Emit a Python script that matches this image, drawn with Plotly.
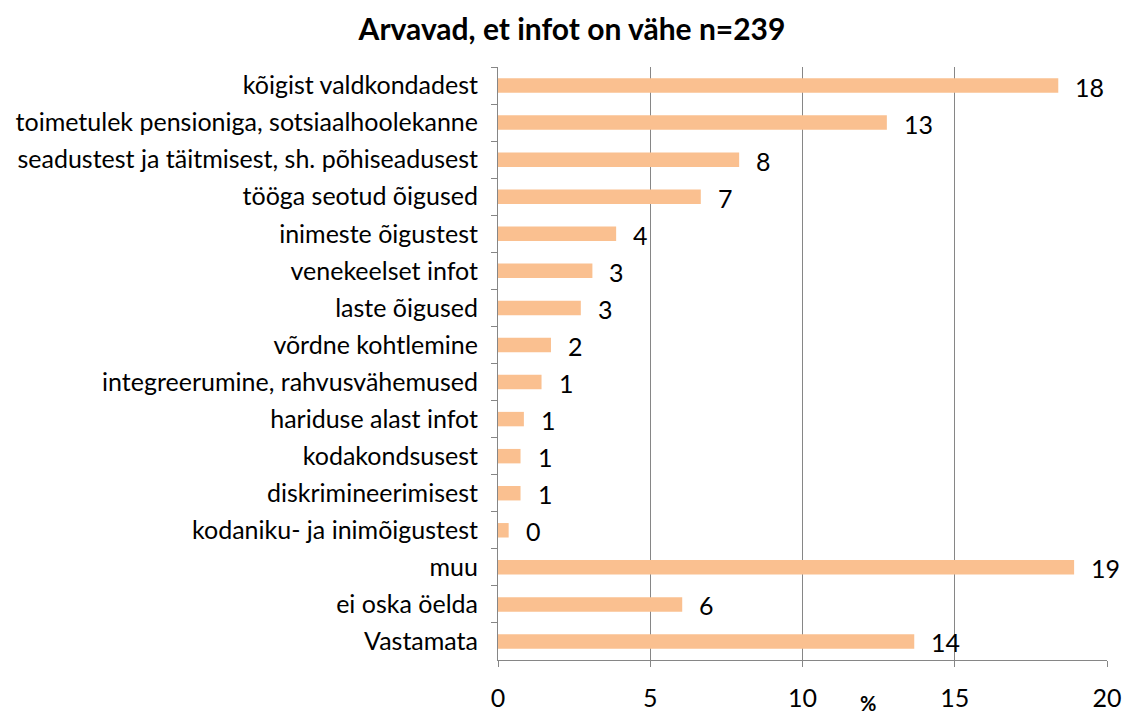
import plotly.graph_objects as go

categories = [
    "kõigist valdkondadest",
    "toimetulek pensioniga, sotsiaalhoolekanne",
    "seadustest ja täitmisest, sh. põhiseadusest",
    "tööga seotud õigused",
    "inimeste õigustest",
    "venekeelset infot",
    "laste õigused",
    "võrdne kohtlemine",
    "integreerumine, rahvusvähemused",
    "hariduse alast infot",
    "kodakondsusest",
    "diskrimineerimisest",
    "kodaniku- ja inimõigustest",
    "muu",
    "ei oska öelda",
    "Vastamata",
]
values = [18.4, 12.77, 7.92, 6.66, 3.88, 3.1, 2.72, 1.74, 1.43, 0.85, 0.74, 0.74, 0.35, 18.92, 6.05, 13.67]
x_ticks = [0, 5, 10, 15, 20]

FONT = "Lato"
FS = 25
BAR_COLOR = "#FAC090"
GRID = "#868686"
W, H = 1126, 717
ML, MR, MT, MB = 498, 19, 67, 57

fig = go.Figure()
fig.add_trace(go.Bar(
    y=categories, x=values, orientation="h",
    marker=dict(color=BAR_COLOR, line=dict(width=0)),
    hoverinfo="x+y",
))

for c, v in zip(categories, values):
    fig.add_annotation(x=v, y=c, text=str(int(round(v))), showarrow=False,
                       xanchor="left", xshift=15, yshift=-1,
                       font=dict(family=FONT, size=FS, color="black"))

fig.add_annotation(xref="paper", yref="paper",
                   x=(868 - ML) / (W - ML - MR),
                   y=-(690 - (H - MB)) / (H - MT - MB),
                   text="<b>%</b>", showarrow=False, xanchor="center", yanchor="top",
                   borderpad=0,
                   font=dict(family=FONT, size=20, color="black"))

fig.update_layout(
    width=W, height=H,
    margin=dict(l=ML, r=MR, t=MT, b=MB),
    paper_bgcolor="white", plot_bgcolor="white",
    bargap=0.61,
    showlegend=False,
    title=dict(text="<b>Arvavad, et infot on vähe n=239</b>", x=572 / W, xanchor="center",
               xref="container", y=1 - 29 / H, yref="container", yanchor="middle",
               automargin=False,
               font=dict(family=FONT, size=30, color="black")),
    xaxis=dict(range=[0, 20], tickvals=x_ticks, showgrid=True, gridcolor=GRID, gridwidth=1,
               showline=True, linecolor=GRID, linewidth=1, ticks="outside", ticklen=6,
               tickcolor=GRID, zeroline=False, automargin=False, ticklabelstandoff=10,
               tickfont=dict(family=FONT, size=FS, color="black")),
    yaxis=dict(autorange="reversed", showline=True, linecolor=GRID, linewidth=1,
               ticks="outside", tickson="boundaries", ticklen=6, tickcolor=GRID,
               showgrid=False, automargin=False, ticklabelstandoff=14,
               tickfont=dict(family=FONT, size=FS, color="black")),
)

fig.write_html("out.html", config={"displayModeBar": False},
               post_script="document.body.style.margin='0';")
